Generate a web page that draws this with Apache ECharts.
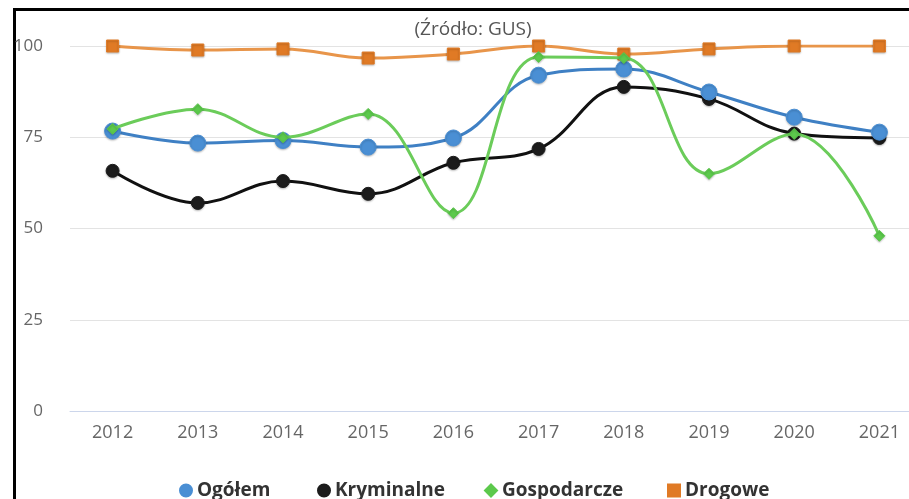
<!DOCTYPE html>
<html lang="pl">
<head>
    <meta charset="UTF-8">
    <title>Wykrywalność</title>
    <script src="https://cdn.jsdelivr.net/npm/echarts@6/dist/echarts.min.js"></script>
    <style>
        *{
            margin: 0;
            padding: 0;
        }
        body,html{
            width: 100%;
            height: 100%;
            overflow: hidden;
            background: #fff;
        }
        .frame{
            position: absolute;
            left: 13px;
            top: 8px;
            width: 920px;
            height: 500px;
            border-left: 3px solid #000;
            border-top: 3px solid #000;
        }
        .box{
            position: absolute;
            left: 0;
            top: 0;
            width: 922px;
            height: 499px;
        }
    </style>
</head>
<body>
<div class="frame"></div>
<div class="box"></div>
<script>
    let years = ['2012', '2013', '2014', '2015', '2016', '2017', '2018', '2019', '2020', '2021'];
    let ogolem = [76.7, 73.4, 74.1, 72.3, 74.8, 92.0, 93.7, 87.4, 80.5, 76.4];
    let kryminalne = [65.8, 57.0, 63.0, 59.5, 68.0, 71.8, 88.8, 85.5, 76.0, 74.8];
    let gospodarcze = [77.3, 82.7, 75.0, 81.4, 54.2, 97.0, 96.7, 65.0, 75.9, 48.0];
    let drogowe = [100, 98.9, 99.2, 96.7, 97.8, 100, 97.8, 99.2, 100, 100];
    let yTicks = [0, 25, 50, 75, 100];
    let legendNames = ['Ogółem', 'Kryminalne', 'Gospodarcze', 'Drogowe'];
    let legendIcons = ['circle', 'circle', 'diamond', 'rect'];

    let myChart = echarts.init(document.querySelector('.box'));

    function makeSeries(name, data, symbol, size, color, lineColor, z) {
        return {
            name: name,
            type: 'line',
            data: data,
            smooth: 0.4,
            symbol: symbol,
            symbolSize: size,
            z: z,
            lineStyle: {
                width: 3,
                color: lineColor
            },
            itemStyle: {
                color: color,
                borderColor: color,
                borderWidth: 1,
                shadowColor: 'rgba(0,0,0,0.25)',
                shadowBlur: 2,
                shadowOffsetY: 1
            }
        }
    }

    // one legend per item so the spacing follows the picture
    let legendLeft = [174, 312, 479, 662];
    let legends = legendNames.map((name, i) => ({
        data: [{name: name, icon: legendIcons[i], itemStyle: {shadowBlur: 0, shadowOffsetY: 0}}],
        left: legendLeft[i],
        top: 476,
        itemWidth: 12,
        itemHeight: 12,
        itemGap: 8,
        textStyle: {
            color: '#333',
            fontSize: 19,
            fontWeight: 'bold',
            fontFamily: 'Open Sans'
        }
    }));

    let option = {
        backgroundColor: 'transparent',
        animation: false,
        title: {
            text: '(Źródło: GUS)',
            left: 468,
            top: 15,
            textAlign: 'center',
            textStyle: {
                color: '#555',
                fontSize: 19,
                fontWeight: 'normal',
                fontFamily: 'Open Sans'
            }
        },
        legend: legends,
        grid: {
            left: 70,
            right: 0,
            top: 46,
            bottom: 88
        },
        xAxis: {
            type: 'category',
            data: years,
            boundaryGap: true,
            axisLine: {
                lineStyle: {color: '#ccd6eb', width: 1}
            },
            axisTick: {
                length: 10,
                lineStyle: {color: '#ccd6eb'}
            },
            axisLabel: {
                color: '#666',
                fontSize: 18,
                margin: 13,
                fontFamily: 'Open Sans'
            }
        },
        yAxis: {
            type: 'value',
            min: yTicks[0],
            max: yTicks[yTicks.length - 1],
            interval: 25,
            axisLine: {show: false},
            axisTick: {show: false},
            axisLabel: {
                color: '#666',
                fontSize: 17,
                margin: 27,
                fontFamily: 'Open Sans'
            },
            splitLine: {
                lineStyle: {color: '#e3e3e3'}
            }
        },
        series: [
            makeSeries('Ogółem', ogolem, 'circle', 16, '#4a8fd4', '#3f80c4', 4),
            makeSeries('Kryminalne', kryminalne, 'circle', 13, '#1c1c1c', '#111', 3),
            makeSeries('Gospodarcze', gospodarcze, 'diamond', 11, '#5cc94c', '#6bcc5a', 5),
            makeSeries('Drogowe', drogowe, 'rect', 12, '#e07a25', '#e8954a', 2)
        ]
    }

    myChart.setOption(option);
</script>
</body>
</html>
